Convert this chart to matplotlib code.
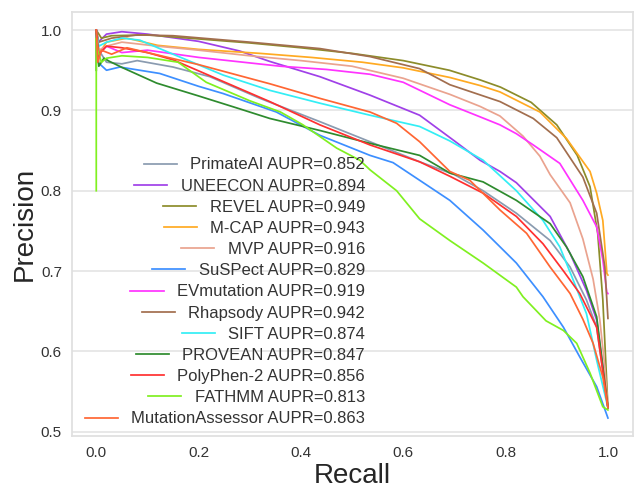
import matplotlib
matplotlib.use("Agg")
import matplotlib.pyplot as plt

plt.rcParams['font.family'] = ['Liberation Sans', 'DejaVu Sans']

names = ["PrimateAI", "UNEECON", "REVEL", "M-CAP", "MVP", "SuSPect", "EVmutation",
         "Rhapsody", "SIFT", "PROVEAN", "PolyPhen-2", "FATHMM", "MutationAssessor"]
aupr = [0.852, 0.894, 0.949, 0.943, 0.916, 0.829, 0.919, 0.942, 0.874, 0.847, 0.856, 0.813, 0.863]
colors = ["#8a9bb0", "#a040e8", "#8c8c2a", "#ffaa22", "#eaa38f", "#3d8fff", "#ff33ff",
          "#a26e4e", "#33eef5", "#2e8b2e", "#ff3030", "#80f020", "#ff6633"]

primateai_r = [0, 0.005, 0.02, 0.05, 0.08, 0.15, 0.222, 0.32, 0.437, 0.535, 0.632, 0.70, 0.756, 0.821, 0.887, 0.926, 0.958, 0.978, 1.0]
primateai_p = [1.0, 0.975, 0.96, 0.958, 0.962, 0.954, 0.942, 0.915, 0.886, 0.861, 0.836, 0.82, 0.80, 0.772, 0.738, 0.705, 0.664, 0.63, 0.53]

uneecon_r = [0, 0.004, 0.02, 0.05, 0.1, 0.2, 0.28, 0.339, 0.437, 0.535, 0.632, 0.70, 0.75, 0.789, 0.821, 0.887, 0.926, 0.958, 0.978, 0.99, 1.0]
uneecon_p = [1.0, 0.985, 0.995, 0.998, 0.995, 0.986, 0.974, 0.961, 0.942, 0.919, 0.894, 0.862, 0.838, 0.824, 0.81, 0.768, 0.722, 0.676, 0.639, 0.581, 0.53]

revel_r = [0, 0.01, 0.03, 0.1, 0.2, 0.3, 0.4, 0.5, 0.6, 0.69, 0.75, 0.79, 0.85, 0.9, 0.94, 0.965, 0.98, 0.99, 1.0]
revel_p = [1.0, 0.99, 0.993, 0.994, 0.989, 0.984, 0.978, 0.971, 0.962, 0.950, 0.938, 0.929, 0.910, 0.882, 0.844, 0.805, 0.747, 0.664, 0.53]

mcap_r = [0, 0.005, 0.02, 0.06, 0.12, 0.2, 0.32, 0.42, 0.52, 0.6, 0.691, 0.75, 0.789, 0.867, 0.919, 0.965, 0.978, 0.99, 0.998, 1.0]
mcap_p = [1.0, 0.97, 0.985, 0.99, 0.981, 0.976, 0.971, 0.966, 0.96, 0.953, 0.941, 0.931, 0.923, 0.898, 0.865, 0.824, 0.797, 0.763, 0.697, 0.695]

mvp_r = [0, 0.005, 0.02, 0.05, 0.12, 0.2, 0.3, 0.4, 0.5, 0.6, 0.691, 0.75, 0.789, 0.834, 0.867, 0.887, 0.926, 0.951, 0.971, 0.984, 0.994, 1.0]
mvp_p = [1.0, 0.975, 0.98, 0.985, 0.98, 0.975, 0.968, 0.962, 0.955, 0.94, 0.92, 0.905, 0.893, 0.868, 0.843, 0.82, 0.785, 0.74, 0.69, 0.64, 0.58, 0.53]

suspect_r = [0, 0.003, 0.02, 0.046, 0.124, 0.2, 0.248, 0.352, 0.437, 0.535, 0.58, 0.632, 0.691, 0.756, 0.821, 0.873, 0.913, 0.945, 0.978, 1.0]
suspect_p = [1.0, 0.96, 0.95, 0.954, 0.946, 0.93, 0.921, 0.898, 0.869, 0.844, 0.835, 0.813, 0.788, 0.751, 0.71, 0.668, 0.63, 0.593, 0.556, 0.517]

evmut_r = [0, 0.005, 0.02, 0.05, 0.1, 0.2, 0.36, 0.45, 0.535, 0.6, 0.691, 0.75, 0.789, 0.821, 0.854, 0.906, 0.951, 0.978, 0.99, 0.998, 1.0]
evmut_p = [1.0, 0.97, 0.98, 0.972, 0.975, 0.966, 0.955, 0.951, 0.945, 0.935, 0.907, 0.892, 0.882, 0.871, 0.857, 0.834, 0.788, 0.755, 0.714, 0.672, 0.672]

rhapsody_r = [0, 0.005, 0.03, 0.08, 0.15, 0.3, 0.437, 0.535, 0.632, 0.691, 0.789, 0.854, 0.90, 0.951, 0.978, 0.994, 1.0]
rhapsody_p = [1.0, 0.985, 0.99, 0.994, 0.993, 0.985, 0.977, 0.967, 0.952, 0.932, 0.911, 0.89, 0.866, 0.817, 0.772, 0.705, 0.641]

sift_r = [0, 0.005, 0.02, 0.05, 0.085, 0.15, 0.248, 0.339, 0.437, 0.535, 0.632, 0.691, 0.756, 0.821, 0.873, 0.906, 0.932, 0.958, 0.978, 1.0]
sift_p = [1.0, 0.98, 0.985, 0.99, 0.9875, 0.97, 0.944, 0.925, 0.909, 0.894, 0.88, 0.862, 0.838, 0.80, 0.763, 0.73, 0.689, 0.647, 0.589, 0.53]

provean_r = [0, 0.0, 0.005, 0.015, 0.026, 0.052, 0.118, 0.2, 0.28, 0.339, 0.437, 0.535, 0.632, 0.691, 0.756, 0.821, 0.887, 0.919, 0.951, 0.978, 1.0]
provean_p = [0.95, 1.0, 0.955, 0.965, 0.961, 0.953, 0.934, 0.918, 0.902, 0.89, 0.875, 0.859, 0.844, 0.822, 0.811, 0.788, 0.759, 0.73, 0.693, 0.643, 0.53]

polyphen_r = [0, 0.005, 0.02, 0.05, 0.1, 0.15, 0.248, 0.339, 0.437, 0.535, 0.632, 0.691, 0.756, 0.821, 0.873, 0.912, 0.945, 0.978, 1.0]
polyphen_p = [1.0, 0.97, 0.98, 0.978, 0.972, 0.963, 0.936, 0.911, 0.882, 0.857, 0.836, 0.818, 0.797, 0.768, 0.734, 0.701, 0.672, 0.63, 0.53]

fathmm_r = [0, 0, 0.003, 0.01, 0.02, 0.05, 0.1, 0.16, 0.215, 0.3, 0.36, 0.404, 0.47, 0.515, 0.535, 0.587, 0.632, 0.691, 0.756, 0.821, 0.834, 0.879, 0.913, 0.939, 0.965, 0.99, 1.0]
fathmm_p = [0.80, 0.99, 0.975, 0.96, 0.965, 0.968, 0.966, 0.96, 0.935, 0.912, 0.898, 0.882, 0.853, 0.838, 0.826, 0.80, 0.765, 0.738, 0.71, 0.68, 0.668, 0.638, 0.626, 0.61, 0.573, 0.531, 0.527]

mutass_r = [0, 0.003, 0.01, 0.03, 0.06, 0.1, 0.2, 0.34, 0.437, 0.535, 0.587, 0.632, 0.691, 0.73, 0.789, 0.841, 0.887, 0.926, 0.951, 0.971, 0.99, 1.0]
mutass_p = [1.0, 0.96, 0.975, 0.97, 0.978, 0.972, 0.957, 0.933, 0.915, 0.898, 0.884, 0.861, 0.824, 0.813, 0.776, 0.747, 0.705, 0.672, 0.64, 0.61, 0.568, 0.53]

recalls = [primateai_r, uneecon_r, revel_r, mcap_r, mvp_r, suspect_r, evmut_r,
           rhapsody_r, sift_r, provean_r, polyphen_r, fathmm_r, mutass_r]
precisions = [primateai_p, uneecon_p, revel_p, mcap_p, mvp_p, suspect_p, evmut_p,
              rhapsody_p, sift_p, provean_p, polyphen_p, fathmm_p, mutass_p]

xticks = [0.0, 0.2, 0.4, 0.6, 0.8, 1.0]
yticks = [0.5, 0.6, 0.7, 0.8, 0.9, 1.0]

fig = plt.figure(figsize=(6.42, 4.91), dpi=100)
ax = fig.add_axes([0.1117, 0.112, 0.8743, 0.864])

for name, a, c, r, p in zip(names, aupr, colors, recalls, precisions):
    ax.plot(r, p, color=c, lw=1.25, label=f"{name} AUPR={a:.3f}")

ax.set_xlim(-0.048, 1.049)
ax.set_ylim(0.4946, 1.0228)
ax.set_xticks(xticks)
ax.set_xticklabels([f"{v:.1f}" for v in xticks])
ax.set_yticks(yticks)
ax.set_yticklabels([f"{v:.1f}" for v in yticks])
ax.tick_params(length=0, labelsize=11, labelcolor="#333333", pad=7)
ax.grid(axis='y', color="#e6e6e6", lw=1.3)
ax.set_axisbelow(True)
for s in ax.spines.values():
    s.set_color("#e0e0e0")
    s.set_linewidth(1.3)

ax.set_xlabel("Recall", fontsize=20, color="#262626", labelpad=2)
ax.set_ylabel("Precision", fontsize=20, color="#262626", labelpad=2)

leg = ax.legend(loc="lower right", bbox_to_anchor=(0.5345, 0.007), borderaxespad=0,
                frameon=False, fontsize=12, labelspacing=0.37, handlelength=2.0,
                handletextpad=0.8, labelcolor="#333333")
for col in leg._legend_handle_box.get_children():
    col.align = "right"

fig.savefig("out.png", dpi=100)
